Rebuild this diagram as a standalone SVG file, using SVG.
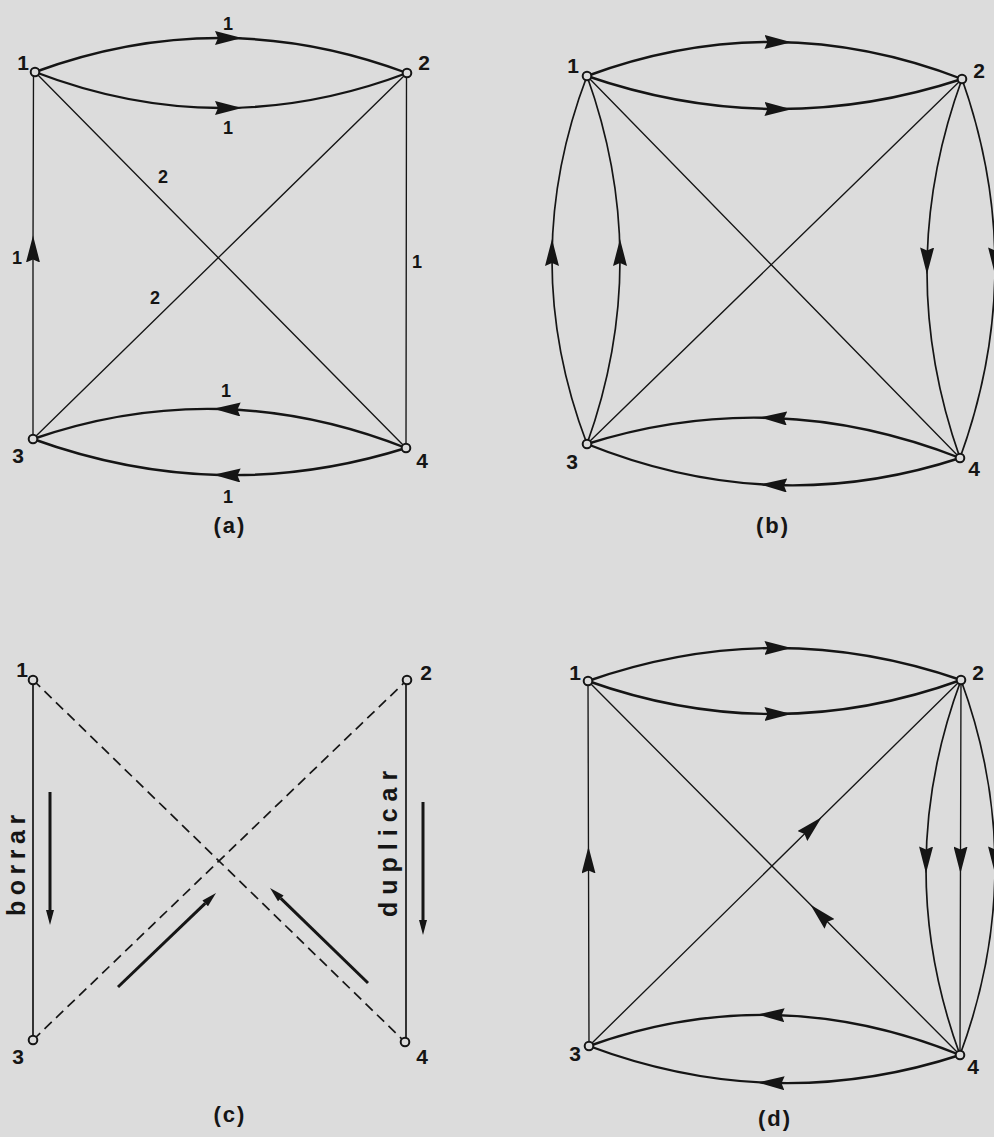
<svg xmlns="http://www.w3.org/2000/svg" width="994" height="1137" viewBox="0 0 994 1137">
<style>
.bg{fill:#dcdcdc}
.e{fill:none;stroke:#151515;stroke-linecap:round}
.thick{stroke-width:2.4}
.med{stroke-width:1.7}
.thin{stroke-width:1.35}
.dash{stroke-width:1.7;stroke-dasharray:10 6;stroke-linecap:butt}
.heavy{stroke-width:3;stroke-linecap:butt}
.nd circle{fill:#dcdcdc;stroke:#151515;stroke-width:2}
text{font-family:"Liberation Sans",Arial,sans-serif;fill:#151515;font-weight:bold}
.nl{font-size:21px;text-anchor:middle}
.wl{font-size:18px;text-anchor:middle}
.cap{font-size:22px;text-anchor:middle;letter-spacing:2px}
.vt{font-size:25px}
.ah{fill:#151515}
</style>
<defs>
<path id="ahp" d="M0,0 L27,7 L0,14 L3,7 z"/>
<marker id="mA" markerUnits="userSpaceOnUse" markerWidth="27" markerHeight="14" viewBox="0 0 27 14" refX="6" refY="7" orient="auto"><use href="#ahp" class="ah"/></marker>
<marker id="mB" markerUnits="userSpaceOnUse" markerWidth="27" markerHeight="14" viewBox="0 0 27 14" refX="10" refY="7" orient="auto"><use href="#ahp" class="ah"/></marker>
<marker id="mC" markerUnits="userSpaceOnUse" markerWidth="27" markerHeight="14" viewBox="0 0 27 14" refX="13.5" refY="7" orient="auto"><use href="#ahp" class="ah"/></marker>
<marker id="mD" markerUnits="userSpaceOnUse" markerWidth="27" markerHeight="14" viewBox="0 0 27 14" refX="21" refY="7" orient="auto"><use href="#ahp" class="ah"/></marker>
<marker id="sm" markerUnits="userSpaceOnUse" markerWidth="15" markerHeight="8" viewBox="0 0 15 8" refX="0" refY="4" orient="auto"><path d="M0,0 L15,4 L0,8 z" class="ah"/></marker>
</defs>
<rect class="bg" x="0" y="0" width="994" height="1137"/>

<g id="connectors">
  <!-- (a) -->
  <path class="e thick" marker-mid="url(#mA)" d="M35,72 Q128,37.75 221,38 Q314,38.25 407,73"/>
  <path class="e thick" marker-mid="url(#mA)" d="M35,72 Q128,107.75 221,108 Q314,108.25 407,73"/>
  <path class="e thin" d="M35,72 L406,448"/>
  <path class="e thin" d="M33,439 L407,73"/>
  <path class="e thin" marker-mid="url(#mC)" d="M33,439 L33,249 L33.5,72"/>
  <path class="e thin" d="M406.5,73 L406,448"/>
  <path class="e thick" marker-mid="url(#mD)" d="M406,448 Q312.75,411.25 219.5,409 Q126.25,406.75 33,439"/>
  <path class="e thick" marker-mid="url(#mD)" d="M406,448 Q312.75,477.25 219.5,475 Q126.25,472.75 33,439"/>
  <!-- (b) -->
  <path class="e thick" marker-mid="url(#mB)" d="M587,76 Q680.75,41.25 774.5,42 Q868.25,42.75 962,79"/>
  <path class="e thick" marker-mid="url(#mB)" d="M587,76 Q680.75,108.25 774.5,109 Q868.25,109.75 962,79"/>
  <path class="e med" marker-mid="url(#mA)" d="M587,444 Q552,352 552,260 Q552,168 587,76"/>
  <path class="e med" marker-mid="url(#mA)" d="M587,444 Q620,352 620,260 Q620,168 587,76"/>
  <path class="e thin" d="M587,76 L960,458"/>
  <path class="e thin" d="M587,444 L962,79"/>
  <path class="e med" marker-mid="url(#mD)" d="M962,79 Q927.5,173.75 927,268.5 Q926.5,363.25 960,458"/>
  <path class="e med" marker-mid="url(#mD)" d="M962,79 Q995.5,173.75 995,268.5 Q994.5,363.25 960,458"/>
  <path class="e thick" marker-mid="url(#mC)" d="M960,458 Q866.75,421.5 773.5,418 Q680.25,414.5 587,444"/>
  <path class="e thick" marker-mid="url(#mC)" d="M960,458 Q866.75,488.5 773.5,485 Q680.25,481.5 587,444"/>
  <!-- (c) -->
  <path class="e med" d="M33,680 L33,1040"/>
  <path class="e med" d="M406,680 L406,1042"/>
  <path class="e dash" d="M33,680 L405,1042"/>
  <path class="e dash" d="M33,1040 L407,680"/>
  <path class="e heavy" marker-end="url(#sm)" d="M50,792 L50,910"/>
  <path class="e heavy" marker-end="url(#sm)" d="M423,802 L423,920"/>
  <path class="e heavy" marker-end="url(#sm)" d="M118,987 L205.2,903.4"/>
  <path class="e heavy" marker-end="url(#sm)" d="M368,983 L280.8,898.4"/>
  <!-- (d) -->
  <path class="e thick" marker-mid="url(#mB)" d="M588,681 Q681.25,648.25 774.5,648 Q867.75,647.75 961,680"/>
  <path class="e thick" marker-mid="url(#mB)" d="M588,681 Q681.25,714.25 774.5,714 Q867.75,713.75 961,680"/>
  <path class="e thin" marker-mid="url(#mC)" d="M589,1046 L588.5,860 L588,681"/>
  <path class="e thin" marker-mid="url(#mC)" d="M589,1046 L812,826.6 L961,680"/>
  <path class="e thin" marker-mid="url(#mC)" d="M960,1055 L820,914.3 L588,681"/>
  <path class="e med" marker-mid="url(#mD)" d="M961,680 Q926.25,773.75 926,867.5 Q925.75,961.25 960,1055"/>
  <path class="e thin" marker-mid="url(#mC)" d="M961,680 L960.5,860 L960,1055"/>
  <path class="e med" marker-mid="url(#mD)" d="M961,680 Q995.25,773.75 995,867.5 Q994.75,961.25 960,1055"/>
  <path class="e thick" marker-mid="url(#mB)" d="M960,1055 Q867.25,1017.25 774.5,1015 Q681.75,1012.75 589,1046"/>
  <path class="e thick" marker-mid="url(#mB)" d="M960,1055 Q867.25,1085.25 774.5,1083 Q681.75,1080.75 589,1046"/>
</g>

<g id="edge-labels">
  <text class="wl" x="228" y="30">1</text>
  <text class="wl" x="228" y="134">1</text>
  <text class="wl" x="163" y="183">2</text>
  <text class="wl" x="155" y="304">2</text>
  <text class="wl" x="17" y="264">1</text>
  <text class="wl" x="417" y="268">1</text>
  <text class="wl" x="226" y="397">1</text>
  <text class="wl" x="228" y="503">1</text>
  <text class="vt" transform="translate(24.5,916) rotate(-90)" letter-spacing="5.5">borrar</text>
  <text class="vt" transform="translate(397,917) rotate(-90)" letter-spacing="7">duplicar</text>
</g>

<g id="a1" class="nd"><circle cx="35" cy="72" r="4.3"/><text class="nl" x="23" y="70">1</text></g>
<g id="a2" class="nd"><circle cx="407" cy="73" r="4.3"/><text class="nl" x="424" y="70">2</text></g>
<g id="a3" class="nd"><circle cx="33" cy="439" r="4.3"/><text class="nl" x="18" y="463">3</text></g>
<g id="a4" class="nd"><circle cx="406" cy="448" r="4.3"/><text class="nl" x="422" y="468">4</text></g>

<g id="b1" class="nd"><circle cx="587" cy="76" r="4.3"/><text class="nl" x="573" y="73">1</text></g>
<g id="b2" class="nd"><circle cx="962" cy="79" r="4.3"/><text class="nl" x="979" y="78">2</text></g>
<g id="b3" class="nd"><circle cx="587" cy="444" r="4.3"/><text class="nl" x="572" y="469">3</text></g>
<g id="b4" class="nd"><circle cx="960" cy="458" r="4.3"/><text class="nl" x="974" y="476">4</text></g>

<g id="c1" class="nd"><circle cx="33" cy="680" r="4.3"/><text class="nl" x="22" y="677">1</text></g>
<g id="c2" class="nd"><circle cx="407" cy="680" r="4.3"/><text class="nl" x="426" y="680">2</text></g>
<g id="c3" class="nd"><circle cx="33" cy="1040" r="4.3"/><text class="nl" x="18" y="1064">3</text></g>
<g id="c4" class="nd"><circle cx="405" cy="1042" r="4.3"/><text class="nl" x="422" y="1064">4</text></g>

<g id="d1" class="nd"><circle cx="588" cy="681" r="4.3"/><text class="nl" x="575" y="680">1</text></g>
<g id="d2" class="nd"><circle cx="961" cy="680" r="4.3"/><text class="nl" x="978" y="680">2</text></g>
<g id="d3" class="nd"><circle cx="589" cy="1046" r="4.3"/><text class="nl" x="575" y="1061">3</text></g>
<g id="d4" class="nd"><circle cx="960" cy="1055" r="4.3"/><text class="nl" x="973" y="1074">4</text></g>

<g id="captions">
  <text class="cap" x="230" y="533">(a)</text>
  <text class="cap" x="773" y="533">(b)</text>
  <text class="cap" x="230" y="1122">(c)</text>
  <text class="cap" x="775" y="1126">(d)</text>
</g>
</svg>
